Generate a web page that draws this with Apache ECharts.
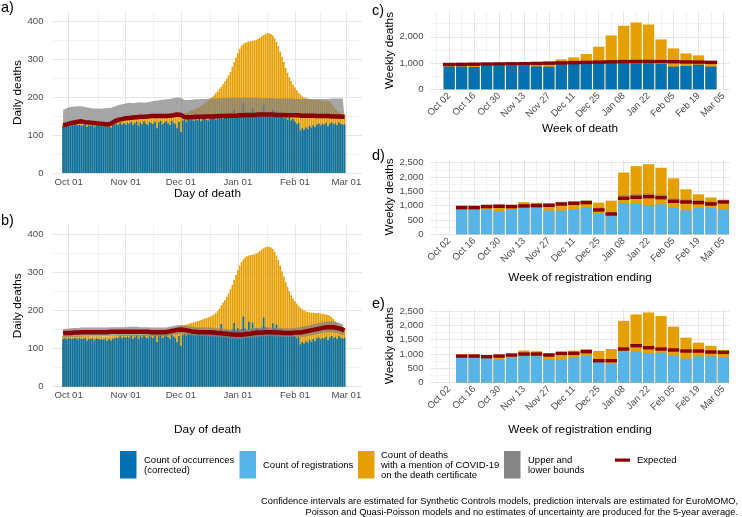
<!DOCTYPE html>
<html>
<head>
<meta charset="utf-8">
<script src="https://cdn.jsdelivr.net/npm/echarts@6.0.0/dist/echarts.min.js"></script>
<style>html,body{margin:0;padding:0;background:#fff}#chart{width:742px;height:517px}</style>
</head>
<body>
<div id="chart"></div>
<script>
// ---------------- categories & tick labels ----------------
const MONTHS = ['Jan','Feb','Mar','Apr','May','Jun','Jul','Aug','Sep','Oct','Nov','Dec'];
const dayCategories = [];               // Sep 23 2020 .. Mar 09 2021
for (let i = 0; i < 168; i++) {
  const dt = new Date(Date.UTC(2020, 8, 23 + i));
  dayCategories.push(MONTHS[dt.getUTCMonth()] + ' ' + String(dt.getUTCDate()).padStart(2, '0'));
}
const firstDay = 'Sep 28';
const dayTickLabels = ['Oct 01','Nov 01','Dec 01','Jan 01','Feb 01','Mar 01'];
const dayMinorGrid = ['Oct 17','Nov 16','Dec 17','Jan 17','Feb 15'];

const weekCategories = ['Sep 25','Oct 02','Oct 09','Oct 16','Oct 23','Oct 30','Nov 06','Nov 13','Nov 20','Nov 27',
  'Dec 04','Dec 11','Dec 18','Dec 25','Jan 01','Jan 08','Jan 15','Jan 22','Jan 29','Feb 05','Feb 12','Feb 19','Feb 26','Mar 05'];
const weekTickLabels = ['Oct 02','Oct 16','Oct 30','Nov 13','Nov 27','Dec 11','Dec 25','Jan 08','Jan 22','Feb 05','Feb 19','Mar 05'];
const firstWeekDeath = 'Oct 02';
const firstWeekReg = 'Oct 09';

const dailyMajorY = [0,100,200,300,400], dailyMinorY = [50,150,250,350];
const cMajorY = [0,1000,2000], cMinorY = [500,1500,2500];
const regMajorY = [0,500,1000,1500,2000,2500], regMinorY = [250,750,1250,1750,2250];

// ---------------- panel a: daily, occurrences (Sep 28 .. Feb 28) ----------------
const occA = [
 124,126,125,128,123,127,126, 128,125,127,124,126,129,122, 126,124,127,120,125,127,123, 126,122,125,121,124,120,127,
 128,130,126,133,128,131,127, 132,129,134,127,131,135,124, 133,128,136,130,126,134,131, 129,135,118,133,137,128,132,
 136,131,126,138,133,129,118, 134,108,138,140,135,142,139, 141,137,143,139,144,136,142, 145,140,138,146,143,147,141,
 147,144,149,142,146,150,145, 148,152,166,150,155,149,153, 184,155,148,152,150,171,150, 156,154,149,156,179,158,152,
 152,148,166,155,162,150,147, 153,145,149,140,146,138,142, 135,128,132,112,118,114,120, 116,124,119,126,121,128,130,
 125,129,127,132,123,130,134, 128,131,126,133,129,127,128];
const covidA = [
 128,129,130,128,131,130,131, 132,130,133,131,132,130,129, 131,129,130,128,130,129,127, 129,126,128,127,126,129,131,
 134,136,137,139,140,140,141, 141,142,143,143,144,144,145, 145,146,146,147,147,147,148, 147,148,148,148,149,148,149,
 149,149,150,150,151,152,152, 152,153,155,157,159,161,163, 165,167,169,171,174,177,180, 184,188,192,196,200,205,210,
 215,221,227,234,241,249,257, 266,280,292,304,316,327,335, 340,343,345,346,347,348,349, 351,353,356,360,363,366,368,
 368,366,362,355,345,334,320, 306,292,277,264,252,242,233, 225,218,211,206,202,199,197, 196,195,194,193,193,192,192,
 191,191,190,190,189,189,181, 175,169,164,160,157,155,153];
const expectedA = [
 126,127,128,129,131,132,133, 134,135,136,136,135,134,133, 133,132,132,132,131,131,130, 130,129,129,128,128,130,133,
 136,138,140,141,142,143,144, 144,145,146,146,147,147,147, 148,148,148,149,149,150,150, 150,150,150,150,150,150,150,
 150,150,151,151,152,153,154, 155,153,148,147,146,147,147, 147,147,148,148,148,148,148, 148,149,149,149,149,149,150,
 150,150,150,150,150,150,151, 151,151,151,151,152,152,152, 152,152,153,153,153,153,153, 153,154,154,154,154,154,154,
 154,154,154,153,153,153,153, 153,153,153,152,152,152,152, 152,152,152,152,151,151,151, 151,151,151,151,150,150,150,
 150,150,150,150,150,149,149, 149,149,149,149,148,148,148];
const upperA = [
 166,168,171,173,174,174,175, 175,176,176,176,175,174,173, 172,171,170,170,170,169,169, 170,170,170,171,171,172,173,
 175,177,179,180,181,182,183, 184,185,185,184,184,185,185, 186,186,185,185,186,187,188, 189,190,191,191,192,193,194,
 194,194,195,196,197,198,199, 200,198,193,192,192,192,193, 193,193,194,194,194,195,195, 195,195,196,196,196,196,197,
 197,197,197,197,197,198,198, 198,198,198,198,198,198,198, 198,198,198,198,198,198,198, 198,198,197,197,197,197,197,
 197,197,197,196,196,196,196, 196,196,196,196,196,196,195, 195,195,195,195,195,195,195, 195,195,195,195,195,195,195,
 195,195,195,195,195,195,196, 196,196,196,196,196,196,196];

// ---------------- panel b: daily, registrations (Sep 28 .. Feb 28) ----------------
const regB = [
 125,127,124,128,126,125,127, 127,124,128,125,126,128,121, 126,125,127,121,126,126,124, 125,123,126,120,125,121,126,
 127,129,127,132,127,130,128, 131,128,133,126,130,134,125, 132,129,135,129,127,133,130, 128,134,117,132,136,127,131,
 135,130,125,137,132,128,117, 133,107,136,139,134,140,137, 139,136,141,138,142,135,140, 143,139,137,144,141,145,140,
 145,143,164,141,145,148,144, 146,150,167,148,153,147,151, 184,152,146,170,149,168,148, 154,152,147,155,181,156,150,
 150,147,166,153,163,149,146, 151,144,147,139,145,137,141, 133,127,131,111,117,113,119, 115,123,118,125,120,127,129,
 124,128,126,131,122,129,133, 127,130,125,132,128,126,128];
const covidB = [
 133,133,134,133,134,134,133, 134,133,134,133,134,133,133, 133,132,133,132,133,132,132, 132,131,132,131,132,132,133,
 133,134,134,135,135,135,135, 136,135,136,135,136,136,136, 136,136,137,136,137,137,137, 138,139,140,142,144,147,150,
 151,152,153,154,154,155,156, 157,158,160,161,163,164,166, 167,169,170,172,173,175,177, 179,180,182,184,186,189,193,
 198,205,213,220,227,236,245, 256,267,280,293,306,318,327, 334,339,342,344,345,346,347, 349,352,356,360,363,366,367,
 367,365,361,354,344,332,318, 303,289,275,262,250,240,231, 224,218,212,207,203,200,197, 196,195,194,194,193,193,193,
 192,191,190,189,188,186,182, 177,171,166,162,159,156,153];
const expectedB = [
 140,140,141,141,141,142,142, 142,142,142,143,143,143,143, 143,143,143,143,143,143,143, 143,143,143,143,143,144,144,
 144,144,144,144,144,144,144, 144,144,144,144,144,144,144, 144,144,144,144,144,143,143, 143,143,143,143,143,143,143,
 143,144,145,146,147,148,149, 150,150,150,149,148,147,146, 145,144,144,143,143,143,143, 143,143,143,143,142,142,142,
 141,141,140,140,139,139,138, 138,137,137,136,136,136,137, 137,138,138,139,139,140,141, 141,142,142,142,143,143,143,
 143,143,143,143,142,142,142, 141,141,141,141,141,141,141, 142,142,142,143,143,144,145, 146,147,148,149,150,151,152,
 153,154,155,156,156,156,156, 155,155,154,153,151,150,148];
const upperB = [
 151,151,152,152,153,153,154, 154,154,155,155,155,155,155, 155,155,155,155,155,155,155, 155,155,155,155,155,156,156,
 156,156,156,156,156,156,156, 156,157,157,157,157,157,156, 156,156,156,156,156,155,155, 155,155,155,155,155,155,155,
 155,156,157,158,159,160,161, 162,162,162,161,160,159,158, 157,156,156,155,155,155,155, 155,155,155,155,154,154,154,
 153,153,152,152,151,151,150, 150,149,149,148,148,148,149, 149,150,150,151,151,152,153, 153,154,154,154,155,155,155,
 155,155,155,155,154,154,154, 153,153,153,153,153,153,154, 154,155,155,156,157,158,159, 160,161,162,164,165,166,167,
 168,169,170,171,171,171,171, 170,170,169,168,166,164,162];
const lowerB = [
 129,129,130,130,130,131,131, 131,131,131,132,132,132,132, 132,132,132,132,132,132,132, 132,132,132,132,132,133,133,
 133,133,133,133,133,133,133, 133,132,132,132,132,132,133, 133,133,133,133,133,132,132, 132,132,132,132,132,132,132,
 132,133,134,135,136,137,138, 139,139,139,138,137,136,135, 134,133,133,132,132,132,132, 132,132,132,132,131,131,131,
 130,130,129,129,128,128,127, 127,126,126,125,125,125,126, 126,127,127,128,128,129,130, 130,131,131,131,132,132,132,
 132,132,132,132,131,131,131, 130,130,130,130,130,130,130, 130,130,130,131,131,131,132, 133,134,135,136,137,138,139,
 140,141,142,143,143,143,143, 142,142,141,140,138,137,135];

// ---------------- panel c: weekly, week of death (Oct 02 .. Feb 26) ----------------
const occC      = [865,870,850,890,900,900,900,870,860,960,980,990,1000,1000,1000,990,987,962,861,886,937,861];
const covidC    = [900,915,925,935,955,975,990,1000,1015,1140,1215,1342,1620,2050,2418,2544,2468,1899,1557,1367,1291,1010];
const expectedC = [945,950,955,960,965,970,975,985,995,1005,1015,1025,1035,1045,1055,1060,1060,1055,1050,1040,1035,1025];
const upperC    = [1000,1005,1010,1015,1020,1025,1030,1040,1050,1060,1070,1080,1090,1100,1110,1115,1115,1110,1105,1095,1090,1080];
const lowerC    = [900,905,910,915,920,925,930,940,950,960,970,980,990,1000,1010,1015,1015,1010,1005,995,990,980];

// ---------------- panels d & e: weekly, week of registration (Oct 09 .. Mar 05) ----------------
const regWeekly   = [878,878,872,803,878,925,925,826,826,884,948,739,663,1088,1088,1024,1048,948,838,919,919,878];
const covidWeekly = [915,900,915,936,955,1122,1100,1024,1076,1117,1175,1106,1175,2158,2380,2449,2322,1955,1571,1396,1286,1140];
const expectedD = [931,931,966,978,966,990,1001,1013,1059,1083,1106,850,710,1257,1292,1315,1280,1153,1129,1106,1059,1129];
const upperD    = [1010,1010,1045,1055,1045,1070,1080,1090,1135,1160,1185,930,790,1370,1405,1430,1390,1250,1220,1195,1150,1215];
const lowerD    = [890,890,925,935,925,950,960,970,1015,1040,1065,810,670,1200,1235,1255,1225,1100,1080,1060,1015,1085];
const expectedE = [930,930,907,930,965,1000,1000,965,1023,1023,1081,767,767,1174,1291,1221,1174,1140,1105,1105,1070,1058];

// ---------------- helpers ----------------
const FONT = '"Liberation Sans", Arial, Helvetica, sans-serif';
const C_OCC = '#0072B2', C_REG = '#56B4E9', C_COV = '#E69F00', C_EXP = '#8B0000';
const BAND = 'rgba(128,128,128,0.7)';
const GRID_MAJOR = {color: '#E6E6E6', width: 1, type: 'solid'};
const GRID_MINOR = {color: '#F2F2F2', width: 1, type: 'solid'};

function placeOn(categories, first, values) {
  const s = categories.indexOf(first);
  return categories.map((c, i) => (i >= s && i < s + values.length) ? values[i - s] : '-');
}
function weeklyItems(first, expected, lower, upper) {
  const s = weekCategories.indexOf(first);
  return expected.map((e, i) => [s + i, e, lower ? lower[i] : e, upper ? upper[i] : e]);
}
function gridLines(ax, hMajor, hMinor, vMajor, vMinor) {
  const data = [];
  hMinor.forEach(v => data.push({yAxis: v, lineStyle: GRID_MINOR}));
  vMinor.forEach(v => data.push({xAxis: v, lineStyle: GRID_MINOR}));
  hMajor.forEach(v => data.push({yAxis: v, lineStyle: GRID_MAJOR}));
  vMajor.forEach(v => data.push({xAxis: v, lineStyle: GRID_MAJOR}));
  return {type: 'line', xAxisIndex: ax, yAxisIndex: ax, data: [], silent: true, z: 1,
    markLine: {silent: true, z: 1, symbol: ['none', 'none'], label: {show: false}, animation: false, data}};
}
const nameStyle = {fontSize: 11.8, color: '#000', fontFamily: FONT};
function dayAxis(g, gap) {
  return {type: 'category', gridIndex: g, data: dayCategories, boundaryGap: true,
    name: 'Day of death', nameLocation: 'middle', nameGap: gap, nameTextStyle: nameStyle,
    axisLine: {show: false}, axisTick: {show: false}, splitLine: {show: false},
    axisLabel: {interval: (i, v) => dayTickLabels.includes(v), margin: 4, fontSize: 9.6,
      color: '#4D4D4D', fontFamily: FONT, hideOverlap: false}};
}
function weekAxis(g, name, gap) {
  return {type: 'category', gridIndex: g, data: weekCategories, boundaryGap: true,
    name, nameLocation: 'middle', nameGap: gap, nameTextStyle: nameStyle,
    axisLine: {show: false}, axisTick: {show: false}, splitLine: {show: false},
    axisLabel: {interval: (i, v) => weekTickLabels.includes(v), rotate: 45, margin: 5, fontSize: 9.6,
      color: '#4D4D4D', fontFamily: FONT, hideOverlap: false}};
}
function valAxis(g, max, step, name, gap, margin) {
  return {type: 'value', gridIndex: g, min: 0, max, interval: step,
    name, nameLocation: 'middle', nameGap: gap, nameTextStyle: nameStyle,
    axisLine: {show: false}, axisTick: {show: false}, splitLine: {show: false},
    axisLabel: {margin, fontSize: 9.6, color: '#4D4D4D', fontFamily: FONT,
      formatter: v => (v % step === 0) ? v.toLocaleString('en-US') : ''}};
}
function bandRender(frac, color) {
  return function (params, api) {
    const x = api.value(0);
    const lo = api.coord([x, api.value(2)]);
    const hi = api.coord([x, api.value(3)]);
    const w = api.size([1, 0])[0] * frac;
    return {type: 'rect', shape: {x: lo[0] - w / 2, y: hi[1], width: w, height: lo[1] - hi[1]},
      style: {fill: color}};
  };
}
function segRender(frac) {
  return function (params, api) {
    const x = api.value(0);
    const p = api.coord([x, api.value(1)]);
    const w = api.size([1, 0])[0] * frac;
    return {type: 'rect', shape: {x: p[0] - w / 2, y: p[1] - 1.7, width: w, height: 3.4},
      style: {fill: C_EXP}};
  };
}
function dailySeries(ax, barVals, barColor, covidVals, expected, lower, upper) {
  const lowArr = placeOn(dayCategories, firstDay, lower);
  const spanArr = placeOn(dayCategories, firstDay, upper.map((u, i) => u - lower[i]));
  return [
    {type: 'bar', xAxisIndex: ax, yAxisIndex: ax, data: placeOn(dayCategories, firstDay, covidVals),
      itemStyle: {color: C_COV}, barGap: '-100%', barCategoryGap: '12%', z: 10, silent: true},
    {type: 'bar', xAxisIndex: ax, yAxisIndex: ax, data: placeOn(dayCategories, firstDay, barVals),
      itemStyle: {color: barColor}, barGap: '-100%', barCategoryGap: '12%', z: 11, silent: true},
    {type: 'line', xAxisIndex: ax, yAxisIndex: ax, data: lowArr, stack: 'band' + ax, symbol: 'none',
      lineStyle: {opacity: 0}, areaStyle: {opacity: 0}, z: 12, silent: true},
    {type: 'line', xAxisIndex: ax, yAxisIndex: ax, data: spanArr, stack: 'band' + ax, symbol: 'none',
      lineStyle: {opacity: 0}, areaStyle: {color: BAND, opacity: 1}, z: 12, silent: true},
    {type: 'line', xAxisIndex: ax, yAxisIndex: ax, data: placeOn(dayCategories, firstDay, expected),
      symbol: 'none', lineStyle: {color: C_EXP, width: 4.5}, z: 13, silent: true}
  ];
}
function weeklySeries(ax, first, barVals, barColor, covidVals, expected, lower, upper, segFrac) {
  const s = [
    {type: 'bar', xAxisIndex: ax, yAxisIndex: ax, data: placeOn(weekCategories, first, covidVals),
      itemStyle: {color: C_COV}, barGap: '-100%', barCategoryGap: '10%', z: 10, silent: true},
    {type: 'bar', xAxisIndex: ax, yAxisIndex: ax, data: placeOn(weekCategories, first, barVals),
      itemStyle: {color: barColor}, barGap: '-100%', barCategoryGap: '10%', z: 11, silent: true}
  ];
  const items = weeklyItems(first, expected, lower, upper);
  if (lower) {
    s.push({type: 'custom', xAxisIndex: ax, yAxisIndex: ax, data: items, encode: {x: 0, y: 1},
      renderItem: bandRender(segFrac, 'rgba(128,128,128,0.55)'), z: 12, silent: true});
  }
  s.push({type: 'custom', xAxisIndex: ax, yAxisIndex: ax, data: items, encode: {x: 0, y: 1},
    renderItem: segRender(segFrac), z: 13, silent: true});
  return s;
}
const weekMinorGrid = weekCategories.filter(c => !weekTickLabels.includes(c));

// ---------------- option ----------------
const option = {
  animation: false,
  backgroundColor: '#fff',
  textStyle: {fontFamily: FONT},
  grid: [
    {left: 53, top: 12, width: 309, height: 161, outerBoundsMode: 'none'},
    {left: 53, top: 225, width: 309, height: 161.7, outerBoundsMode: 'none'},
    {left: 430.5, top: 11.7, width: 299.1, height: 77.6, outerBoundsMode: 'none'},
    {left: 430.5, top: 159.5, width: 299.1, height: 74.8, outerBoundsMode: 'none'},
    {left: 430.5, top: 308.5, width: 299.1, height: 74.2, outerBoundsMode: 'none'}
  ],
  xAxis: [
    dayAxis(0, 15),
    dayAxis(1, 37),
    weekAxis(2, 'Week of death', 32),
    weekAxis(3, 'Week of registration ending', 37),
    weekAxis(4, 'Week of registration ending', 41)
  ],
  yAxis: [
    valAxis(0, 424, 100, 'Daily deaths', 28, 9.5),
    valAxis(1, 424, 100, 'Daily deaths', 28, 9.5),
    valAxis(2, 2954, 1000, 'Weekly deaths', 32, 7),
    valAxis(3, 2612, 500, 'Weekly deaths', 32, 7),
    valAxis(4, 2588, 500, 'Weekly deaths', 32, 7)
  ],
  series: [
    gridLines(0, dailyMajorY, dailyMinorY, dayTickLabels, dayMinorGrid),
    gridLines(1, dailyMajorY, dailyMinorY, dayTickLabels, dayMinorGrid),
    gridLines(2, cMajorY, cMinorY, weekTickLabels, weekMinorGrid),
    gridLines(3, regMajorY, regMinorY, weekTickLabels, weekMinorGrid),
    gridLines(4, regMajorY, regMinorY, weekTickLabels, weekMinorGrid),
    ...dailySeries(0, occA, C_OCC, covidA, expectedA, expectedA, upperA),
    ...dailySeries(1, regB, C_OCC, covidB, expectedB, lowerB, upperB),
    ...weeklySeries(2, firstWeekDeath, occC, C_OCC, covidC, expectedC, lowerC, upperC, 1.0),
    ...weeklySeries(3, firstWeekReg, regWeekly, C_REG, covidWeekly, expectedD, lowerD, upperD, 0.92),
    ...weeklySeries(4, firstWeekReg, regWeekly, C_REG, covidWeekly, expectedE, null, null, 0.92)
  ],
  graphic: [
    // panel tags
    {type: 'text', x: 1, y: 8, style: {text: 'a)', font: '14.5px ' + FONT, fill: '#000', verticalAlign: 'middle'}},
    {type: 'text', x: 1, y: 221, style: {text: 'b)', font: '14.5px ' + FONT, fill: '#000', verticalAlign: 'middle'}},
    {type: 'text', x: 372, y: 11, style: {text: 'c)', font: '14.5px ' + FONT, fill: '#000', verticalAlign: 'middle'}},
    {type: 'text', x: 372, y: 156, style: {text: 'd)', font: '14.5px ' + FONT, fill: '#000', verticalAlign: 'middle'}},
    {type: 'text', x: 372, y: 304, style: {text: 'e)', font: '14.5px ' + FONT, fill: '#000', verticalAlign: 'middle'}},
    // legend
    {type: 'rect', shape: {x: 120, y: 451, width: 16.5, height: 27.5}, style: {fill: C_OCC}},
    {type: 'text', x: 144, y: 465, style: {text: 'Count of occurrences\n(corrected)', font: '9.5px ' + FONT, lineHeight: 10, fill: '#000', verticalAlign: 'middle'}},
    {type: 'rect', shape: {x: 239.5, y: 451, width: 16.5, height: 27.5}, style: {fill: C_REG}},
    {type: 'text', x: 263, y: 465, style: {text: 'Count of registrations', font: '9.5px ' + FONT, lineHeight: 10, fill: '#000', verticalAlign: 'middle'}},
    {type: 'rect', shape: {x: 358, y: 451, width: 16.5, height: 27.5}, style: {fill: C_COV}},
    {type: 'text', x: 381, y: 465, style: {text: 'Count of deaths\nwith a mention of COVID-19\non the death certificate', font: '9.5px ' + FONT, lineHeight: 10, fill: '#000', verticalAlign: 'middle'}},
    {type: 'rect', shape: {x: 504, y: 451, width: 16.5, height: 27.5}, style: {fill: '#858585'}},
    {type: 'text', x: 528, y: 465.5, style: {text: 'Upper and\nlower bounds', font: '9.5px ' + FONT, lineHeight: 10, fill: '#000', verticalAlign: 'middle'}},
    {type: 'rect', shape: {x: 615, y: 458.5, width: 15, height: 3.2}, style: {fill: C_EXP}},
    {type: 'text', x: 637, y: 460, style: {text: 'Expected', font: '9.5px ' + FONT, fill: '#000', verticalAlign: 'middle'}},
    // caption
    {type: 'text', x: 738, y: 495.5, style: {
      text: 'Confidence intervals are estimated for Synthetic Controls models, prediction intervals are estimated for EuroMOMO,\nPoisson and Quasi-Poisson models and no estimates of uncertainty are produced for the 5-year average.',
      font: '9.3px ' + FONT, lineHeight: 11, fill: '#000', align: 'right', verticalAlign: 'top'}}
  ]
};

const chart = echarts.init(document.getElementById('chart'), null, {renderer: 'canvas'});
chart.setOption(option);
</script>
</body>
</html>
